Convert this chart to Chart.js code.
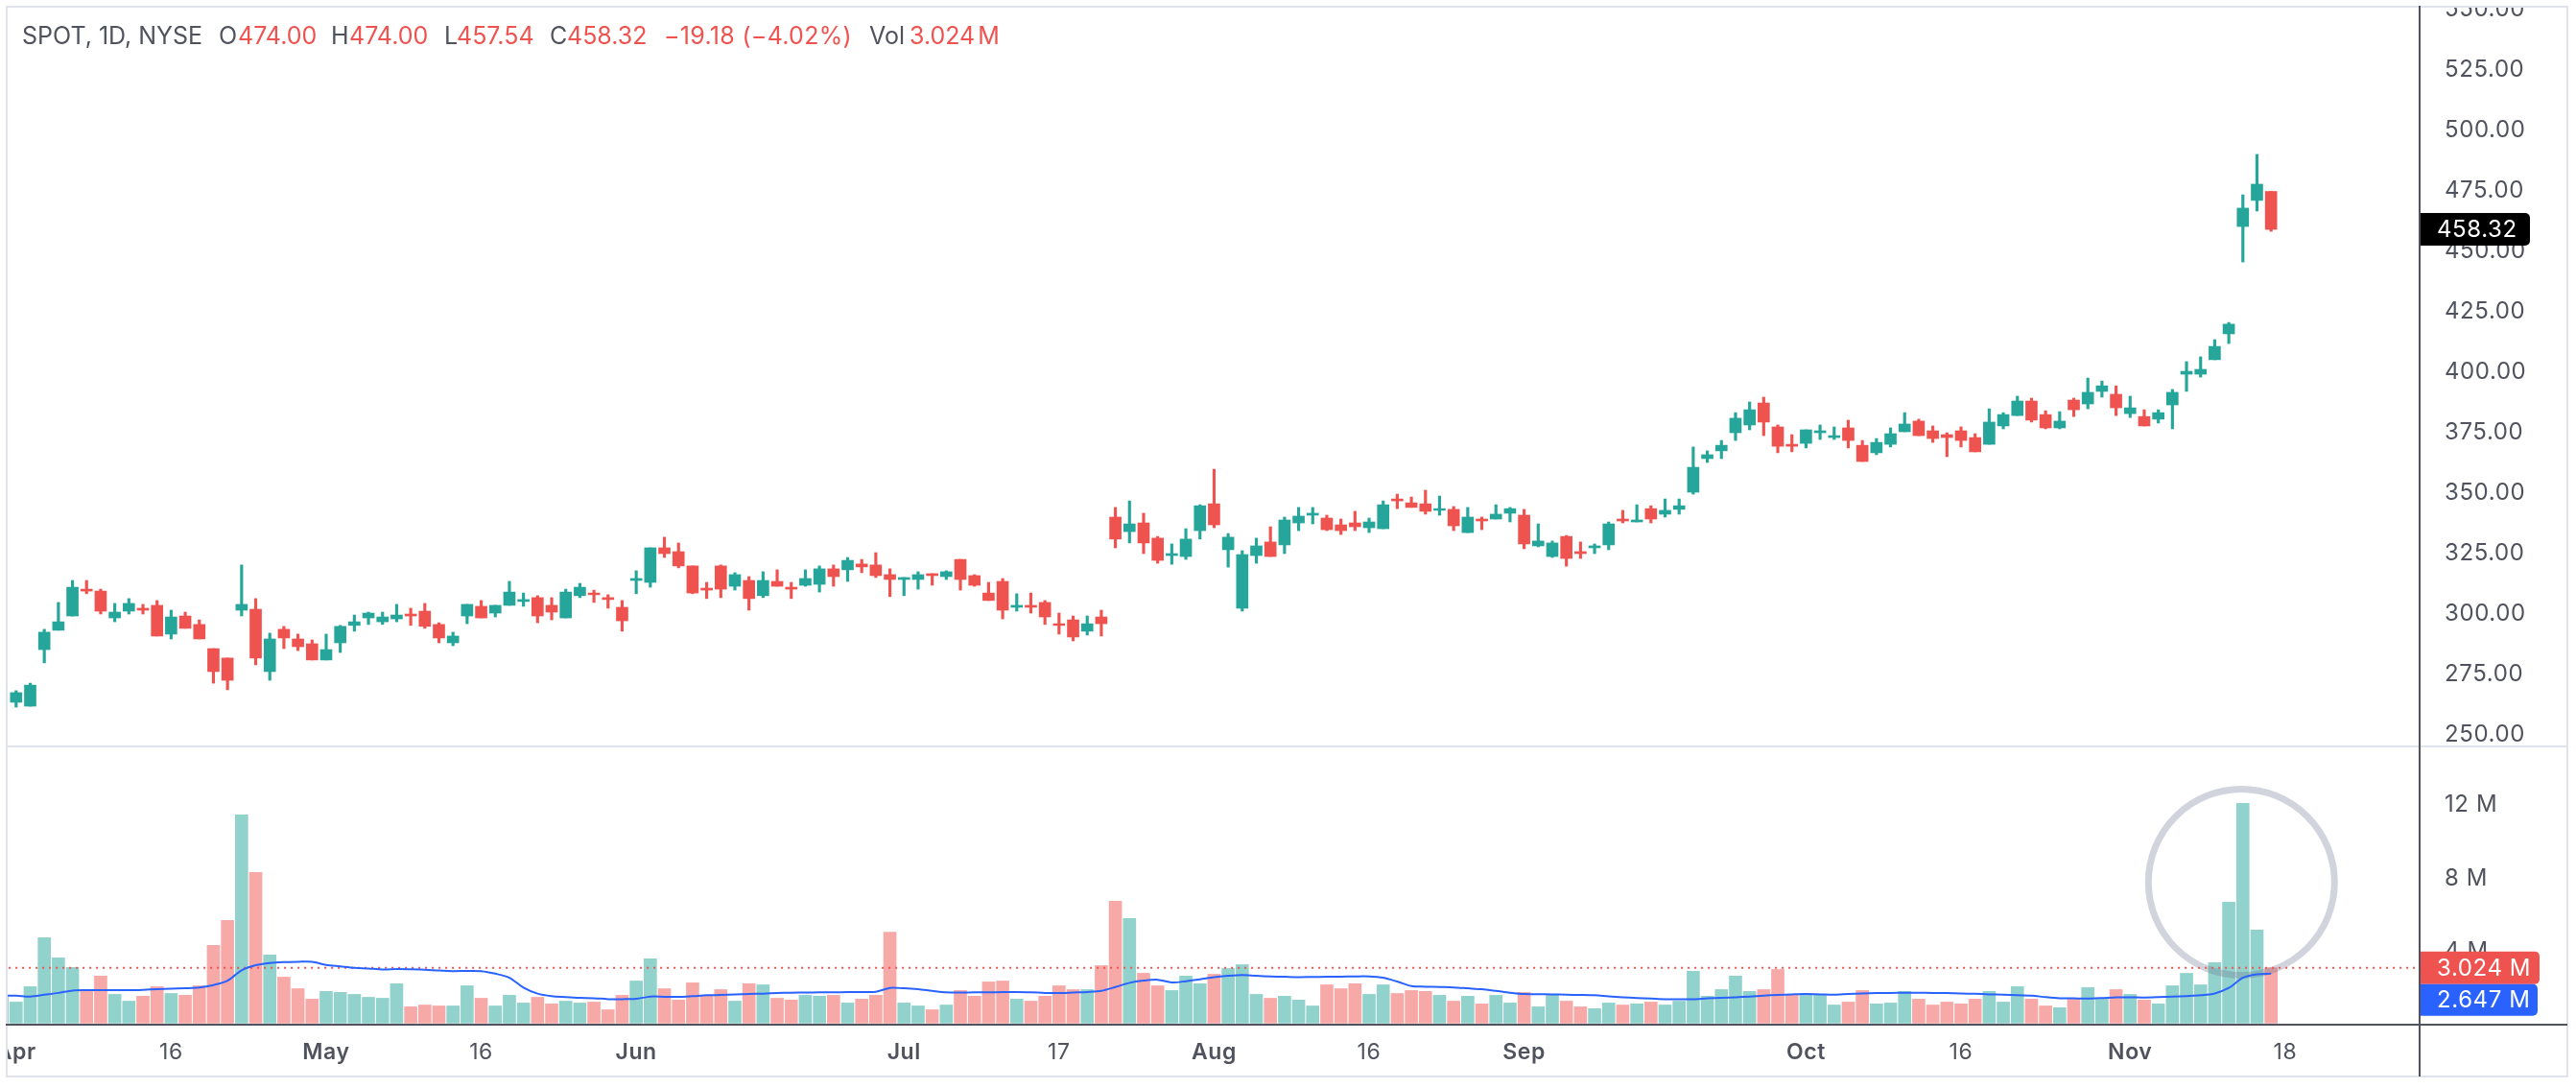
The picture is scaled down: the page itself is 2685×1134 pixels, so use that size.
<!DOCTYPE html>
<html>
<head>
<meta charset="utf-8">
<title>SPOT, 1D, NYSE</title>
<script src="https://cdn.jsdelivr.net/npm/chart.js@4/dist/chart.umd.min.js"></script>
<style>
  html, body { margin: 0; padding: 0; background: #fff; }
  #wrap { position: relative; width: 2685px; height: 1134px; overflow: hidden; }
  #priceChart { position: absolute; left: 0; top: 0; }
  #legend span { position: absolute; top: 22px; font: 400 25px Inter, sans-serif; line-height: 30px; white-space: pre; color: #50535e; }
  #legend span.dn { color: #ef5350; }
  #legend span.tight { word-spacing: -4px; }
</style>
</head>
<body>
<div id="wrap">
  <canvas id="priceChart" width="2685" height="1134"></canvas>
  <div id="legend">
    <span style="left:23px">SPOT, 1D, NYSE</span>
    <span style="left:228px">O</span><span class="dn" style="left:248px">474.00</span>
    <span style="left:345px">H</span><span class="dn" style="left:364px">474.00</span>
    <span style="left:463px">L</span><span class="dn" style="left:476px">457.54</span>
    <span style="left:573px">C</span><span class="dn" style="left:591px">458.32</span>
    <span class="dn" style="left:692px;letter-spacing:.3px">−19.18 (−4.02%)</span>
    <span style="left:906px">Vol</span><span class="dn tight" style="left:948px">3.024 M</span>
  </div>
</div>
<script>
const UP = '#26a69a';
const DOWN = '#ef5350';
const UP_VOL = 'rgba(38,166,154,.5)';
const DOWN_VOL = 'rgba(239,83,80,.5)';
const TEXT = '#50535e';
const BORDER = '#e0e3eb';
const MA_BLUE = '#2962ff';
const FONT = 'Inter, sans-serif';

// index 0 is the session cut off by the left edge: only its volume bar shows
const opens = [null,
  262.7,261.1,284.5,292.5,298.4,309.5,308.7,297.6,300.4,301.6,
  302.8,290.9,298.4,294.9,284.9,281.0,300.8,301.2,275.4,292.9,
  288.9,286.9,280.2,287.3,294.5,297.6,296.0,297.2,299.2,300.4,
  294.9,287.3,298.4,302.4,299.6,302.8,304.4,306.0,302.8,297.6,
  306.8,307.9,306.0,302.0,313.1,312.3,326.6,325.0,319.1,309.9,
  319.1,310.7,313.1,306.8,312.7,310.3,311.1,311.5,317.9,317.5,
  319.9,319.5,315.5,313.5,313.5,315.9,314.7,321.8,315.1,307.9,
  312.7,302.0,302.8,304.0,295.2,296.8,292.1,298.0,339.3,333.3,
  336.9,330.6,323.4,323.0,333.7,344.8,325.8,301.6,323.4,329.0,
  327.8,336.9,340.1,338.9,336.1,336.9,334.9,334.5,346.8,345.2,
  344.8,342.1,342.5,332.9,338.5,338.5,340.9,340.1,327.4,323.0,
  331.3,325.0,326.6,327.8,338.5,337.3,342.8,340.5,342.5,349.6,
  363.5,366.7,374.2,377.4,386.5,376.6,369.4,369.8,374.2,372.2,
  376.2,369.0,365.9,369.4,374.6,379.0,375.0,373.4,375.0,372.2,
  369.4,377.0,381.3,387.3,381.7,376.2,387.7,386.1,391.3,390.1,
  382.1,380.9,379.8,385.7,398.4,398.4,404.4,415.1,459.5,470.3,474.0];

const highs = [null,
  267.5,270.6,292.9,304.0,313.1,313.1,309.5,303.6,305.6,303.2,
  304.8,300.8,300.0,296.8,284.9,281.0,319.5,305.6,291.3,294.1,
  290.9,288.5,290.9,294.5,298.8,300.0,300.0,303.2,301.6,303.6,
  295.6,291.7,303.2,304.8,302.8,312.7,307.9,306.8,306.0,309.5,
  311.9,309.1,307.2,304.8,317.1,326.6,331.0,328.6,319.1,312.3,
  319.5,316.3,314.7,316.7,317.5,312.3,317.5,319.1,319.5,322.6,
  321.8,324.6,317.9,314.3,316.7,315.9,317.1,321.8,315.5,312.3,
  313.9,307.6,307.9,304.8,299.6,298.4,298.4,300.8,343.3,346.0,
  340.9,331.3,328.2,334.5,344.4,359.1,332.5,325.4,330.6,335.3,
  339.3,343.3,343.3,340.1,338.5,341.7,338.9,346.0,348.8,347.6,
  350.4,348.0,343.7,343.3,339.3,344.4,343.3,342.5,336.5,329.4,
  331.7,329.0,328.2,337.3,342.1,344.4,344.0,346.8,346.8,368.3,
  366.7,371.0,382.5,386.9,388.9,377.4,373.4,375.4,377.4,376.6,
  379.4,371.0,371.8,376.2,382.5,379.8,377.0,374.2,376.6,373.8,
  384.1,382.5,389.3,388.5,383.3,382.9,388.5,396.8,395.6,393.6,
  389.3,383.7,383.7,392.1,403.6,405.6,412.7,419.8,472.6,489.3,474.0];

const lows = [null,
  260.7,261.1,279.0,292.5,298.4,307.6,299.2,296.0,299.2,299.2,
  290.1,288.9,293.3,288.9,270.6,267.9,298.4,278.2,271.8,284.9,
  284.1,280.2,280.2,283.3,292.1,294.9,294.9,296.0,294.5,293.3,
  287.3,286.1,295.2,297.6,298.0,302.8,302.4,295.6,296.8,297.6,
  306.0,304.0,301.6,292.1,307.6,310.3,322.6,318.3,307.6,305.6,
  306.0,309.1,300.8,306.0,310.7,305.6,310.7,308.3,310.7,312.7,
  316.3,314.3,306.4,306.8,309.5,311.1,313.5,309.1,310.7,304.8,
  297.2,300.4,299.6,294.9,290.9,288.1,290.5,290.1,326.6,328.6,
  324.2,320.2,319.8,321.8,330.2,334.9,318.6,300.4,320.2,323.0,
  324.2,333.7,336.5,333.7,332.1,333.7,332.9,334.5,342.8,343.3,
  340.5,340.1,333.7,332.9,334.1,338.5,337.3,326.2,327.0,322.6,
  319.0,322.2,324.2,325.8,336.9,337.3,336.9,339.3,340.5,348.8,
  361.9,363.5,371.0,375.4,373.0,365.9,366.3,367.9,371.4,371.4,
  367.9,362.3,365.1,368.3,374.6,373.0,370.2,364.3,368.3,366.3,
  369.4,375.8,381.3,378.6,375.8,375.8,380.9,384.1,388.9,381.3,
  380.5,377.0,378.2,375.8,391.3,397.2,404.4,411.1,444.8,465.9,457.5];

const closes = [null,
  266.7,269.8,291.7,296.0,310.3,308.7,300.4,300.0,303.6,300.8,
  290.1,298.0,293.3,288.9,275.4,271.8,303.2,281.0,288.9,289.3,
  285.7,280.2,284.5,294.1,296.0,299.6,298.0,298.8,298.4,294.1,
  289.3,290.1,303.2,297.6,302.8,308.3,305.2,298.4,300.0,308.3,
  310.3,307.2,305.2,296.4,313.9,326.6,324.2,319.1,307.9,309.1,
  309.5,315.5,305.6,313.1,310.7,309.5,313.9,317.9,314.7,321.4,
  318.7,315.1,313.5,314.3,315.5,315.1,316.7,313.5,311.1,304.8,
  300.8,302.8,302.0,298.0,294.5,289.7,295.2,295.2,330.2,336.5,
  328.6,321.4,324.2,330.2,344.0,336.1,331.0,323.8,327.4,323.0,
  338.1,339.7,340.9,334.1,333.7,335.3,337.3,344.4,346.0,343.3,
  341.7,342.8,335.7,339.3,337.7,340.5,342.8,328.2,329.4,328.6,
  322.2,324.2,327.4,336.5,337.7,338.1,338.5,342.1,344.0,359.9,
  365.1,369.0,380.2,383.7,378.6,368.6,368.6,375.4,375.0,373.0,
  371.0,362.3,370.2,373.8,377.8,373.0,371.8,372.2,371.0,366.3,
  378.6,381.7,387.3,379.4,376.2,379.0,383.7,390.9,393.6,384.5,
  384.5,377.0,382.5,390.9,399.6,400.4,409.9,419.1,467.1,477.0,458.32];

// millions of shares
const volumes = [1.41,
  1.15,1.99,4.66,3.56,3.04,1.73,2.57,1.57,1.20,1.47,
  1.99,1.62,1.52,2.04,4.24,5.60,11.36,8.22,3.72,2.51,
  1.88,1.31,1.73,1.68,1.57,1.41,1.36,2.15,0.89,0.99,
  0.94,0.94,2.04,1.36,0.94,1.52,1.10,1.41,1.05,1.20,
  1.10,1.15,0.73,1.52,2.30,3.51,1.88,1.26,2.20,1.52,
  1.83,1.20,2.15,2.09,1.36,1.26,1.52,1.47,1.52,1.10,
  1.31,1.52,4.97,1.10,0.94,0.73,0.99,1.78,1.47,2.25,
  2.30,1.31,1.20,1.47,2.04,1.83,1.83,3.14,6.65,5.71,
  2.72,2.04,1.78,2.57,2.15,2.67,2.98,3.19,1.57,1.36,
  1.47,1.26,0.94,2.09,1.88,2.15,1.57,2.09,1.62,1.78,
  1.73,1.52,1.20,1.47,1.05,1.52,1.10,1.68,0.89,1.57,
  1.20,0.89,0.79,1.10,0.99,1.05,1.15,0.99,1.20,2.83,
  1.47,1.83,2.57,1.73,1.83,2.93,1.52,1.62,1.57,0.99,
  1.15,1.78,1.05,1.10,1.73,1.31,0.99,1.15,1.05,1.31,
  1.73,1.15,1.99,1.31,0.94,0.84,1.31,1.94,1.31,1.83,
  1.57,1.26,1.05,2.04,2.72,2.09,3.30,6.60,11.99,5.08,3.024];

const volumeMA = [1.50,
  1.50,1.45,1.55,1.65,1.78,1.80,1.80,1.80,1.80,1.82,
  1.85,1.88,1.90,1.94,2.08,2.32,2.88,3.16,3.28,3.33,
  3.35,3.35,3.18,3.10,3.02,2.98,2.93,2.95,2.94,2.92,
  2.87,2.84,2.85,2.84,2.70,2.48,1.94,1.61,1.47,1.42,
  1.38,1.36,1.31,1.31,1.33,1.45,1.44,1.43,1.47,1.52,
  1.54,1.57,1.59,1.61,1.64,1.66,1.67,1.68,1.68,1.69,
  1.70,1.71,1.92,1.90,1.85,1.76,1.68,1.67,1.68,1.68,
  1.69,1.69,1.68,1.65,1.64,1.67,1.70,1.76,1.97,2.20,
  2.32,2.37,2.22,2.29,2.39,2.51,2.58,2.62,2.58,2.55,
  2.53,2.51,2.52,2.53,2.54,2.55,2.55,2.48,2.27,2.02,
  1.99,1.97,1.95,1.90,1.85,1.76,1.66,1.59,1.58,1.57,
  1.55,1.54,1.52,1.46,1.41,1.37,1.34,1.31,1.31,1.31,
  1.35,1.38,1.41,1.45,1.50,1.54,1.57,1.59,1.57,1.55,
  1.59,1.62,1.64,1.65,1.66,1.66,1.65,1.64,1.62,1.60,
  1.57,1.55,1.52,1.50,1.42,1.36,1.35,1.34,1.37,1.41,
  1.41,1.40,1.42,1.45,1.48,1.52,1.62,1.92,2.48,2.67,2.70];

const priceTicks = [250, 275, 300, 325, 350, 375, 400, 425, 450, 475, 500, 525, 550];
const volumeTicks = [4, 8, 12];
const timeTickIndex = [1, 12, 23, 34, 45, 64, 75, 86, 97, 108, 128, 139, 151, 162];
const timeTickLabels = ['Apr', '16', 'May', '16', 'Jun', 'Jul', '17', 'Aug', '16', 'Sep', 'Oct', '16', 'Nov', '18'];

const LAST_PRICE = 458.32;
const LAST_VOLUME = 3.024;
const LAST_MA = 2.647;
const CIRCLE_INDEX = 158.9;
const CIRCLE_VOLUME = 7.69;

const isUp = i => closes[i] == null || closes[i] >= opens[i];
const xs = volumes.map((_, i) => i);

function setTicks(values) {
  return scale => { scale.ticks = values.map(value => ({ value })); };
}

function fixBox(width) {
  return scale => {
    scale.width = width;
    scale.paddingTop = scale.paddingBottom = 0;
  };
}

function roundedTag(ctx, right, top, bottom, color, label) {
  ctx.fillStyle = color;
  ctx.beginPath();
  ctx.roundRect(2523, top, right - 2523, bottom - top, [0, 5, 5, 0]);
  ctx.fill();
  ctx.fillStyle = '#fff';
  ctx.textAlign = 'left';
  ctx.textBaseline = 'middle';
  ctx.font = '400 24px ' + FONT;
  ctx.fillText(label, 2540, (top + bottom) / 2 + 1);
}

const framePlugin = {
  id: 'frame',
  beforeDraw(chart) {
    chart.ctx.letterSpacing = '0.6px';
  },
  afterDraw(chart) {
    const { ctx, scales } = chart;
    ctx.save();
    // labels that run past the frame get cut off, as in the original
    ctx.fillStyle = '#fff';
    ctx.fillRect(0, 0, 6, 1134);
    ctx.fillRect(0, 0, 2685, 6);

    ctx.fillStyle = BORDER;
    ctx.fillRect(6, 6, 2, 1116);
    ctx.fillRect(6, 6, 2670, 2);
    ctx.fillRect(6, 1121, 2670, 2);
    ctx.fillRect(2675, 6, 2, 1117);
    ctx.fillRect(6, 777, 2670, 2);

    ctx.fillStyle = TEXT;
    ctx.fillRect(2521, 6, 2, 1116);
    ctx.fillRect(6, 1067, 2670, 2);

    const py = scales.y.getPixelForValue(LAST_PRICE);
    roundedTag(ctx, 2637, py - 17, py + 17, '#000', LAST_PRICE.toFixed(2));
    const vy = scales.yVol.getPixelForValue(LAST_VOLUME);
    roundedTag(ctx, 2647, vy - 17, vy + 17, DOWN, LAST_VOLUME.toFixed(3) + ' M');
    roundedTag(ctx, 2645, vy + 17, vy + 50, MA_BLUE, LAST_MA.toFixed(3) + ' M');
    ctx.restore();
  },
};

new Chart(document.getElementById('priceChart'), {
  data: {
    datasets: [
      {
        type: 'bar', label: 'Volume', yAxisID: 'yVol', order: 6, grouped: false,
        data: xs.map(i => ({ x: i, y: volumes[i] })),
        backgroundColor: xs.map(i => isUp(i) ? UP_VOL : DOWN_VOL),
        barThickness: 13, borderWidth: 0,
      },
      {
        type: 'line', label: 'Circle', yAxisID: 'yVol', order: 5, showLine: false,
        data: [{ x: CIRCLE_INDEX, y: CIRCLE_VOLUME }],
        pointRadius: 97, pointBorderWidth: 7,
        pointBackgroundColor: 'rgba(0,0,0,0)',
        pointBorderColor: 'rgba(102,112,138,.3)',
      },
      {
        type: 'line', label: 'Last volume', yAxisID: 'yVol', order: 4,
        data: [{ x: 0, y: LAST_VOLUME }, { x: 171.2, y: LAST_VOLUME }],
        borderColor: DOWN, borderWidth: 2, borderDash: [2, 5], pointRadius: 0,
      },
      {
        type: 'line', label: 'Volume MA', yAxisID: 'yVol', order: 3,
        data: xs.map(i => ({ x: i, y: volumeMA[i] })),
        borderColor: MA_BLUE, borderWidth: 2, pointRadius: 0, tension: 0.3,
      },
      {
        type: 'bar', label: 'Wick', yAxisID: 'y', order: 2, grouped: false,
        data: xs.map(i => ({ x: i, y: highs[i] == null ? null : [lows[i], highs[i]] })),
        backgroundColor: xs.map(i => isUp(i) ? UP : DOWN),
        barThickness: 2.5, borderWidth: 0,
      },
      {
        type: 'bar', label: 'Body', yAxisID: 'y', order: 1, grouped: false,
        data: xs.map(i => ({ x: i, y: opens[i] == null ? null : [opens[i], closes[i]] })),
        backgroundColor: xs.map(i => isUp(i) ? UP : DOWN),
        barThickness: 12, borderWidth: 0,
      },
    ],
  },
  options: {
    responsive: false, animation: false, devicePixelRatio: 1,
    layout: { autoPadding: false, padding: { left: 6, top: 7, right: 9, bottom: 12 } },
    plugins: { legend: { display: false }, tooltip: { enabled: false } },
    events: [],
    scales: {
      x: {
        type: 'linear', min: 0.265, max: 171.54, offset: false,
        grid: { display: false }, border: { display: false },
        afterBuildTicks: setTicks(timeTickIndex),
        afterFit: scale => { scale.height = 54; scale.paddingLeft = scale.paddingRight = 0; },
        ticks: {
          autoSkip: false, maxRotation: 0, padding: 7, color: TEXT,
          callback: v => timeTickLabels[timeTickIndex.indexOf(v)],
          font: ctx => {
            const label = ctx.tick ? timeTickLabels[timeTickIndex.indexOf(ctx.tick.value)] : '';
            return { family: FONT, size: 23, weight: /[a-z]/i.test(label) ? '600' : '400' };
          },
        },
      },
      y: {
        position: 'right', stack: 'panes', stackWeight: 771, weight: 0,
        min: 244.44, max: 550.4,
        grid: { display: false }, border: { display: false },
        afterBuildTicks: setTicks(priceTicks),
        afterFit: fixBox(154),
        ticks: {
          autoSkip: false, padding: 18, labelOffset: 2, color: TEXT,
          font: { family: FONT, size: 24 },
          callback: v => v.toFixed(2),
        },
      },
      yVol: {
        position: 'right', stack: 'panes', stackWeight: 290, weight: 1,
        min: -0.084, max: 15.1,
        grid: { display: false }, border: { display: false },
        afterBuildTicks: setTicks(volumeTicks),
        afterFit: fixBox(154),
        ticks: {
          autoSkip: false, padding: 18, labelOffset: 2, color: TEXT,
          font: { family: FONT, size: 24 },
          callback: v => v + ' M',
        },
      },
    },
  },
  plugins: [framePlugin],
});
</script>
</body>
</html>
